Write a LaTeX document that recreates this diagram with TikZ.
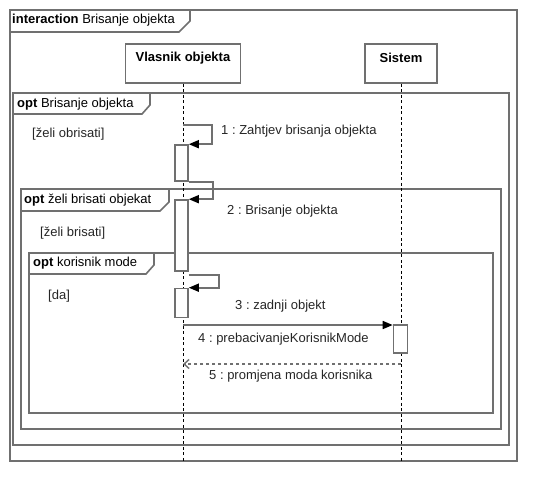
\documentclass[tikz,border=0pt]{standalone}
\usepackage{fontspec}
\setmainfont{Liberation Sans}
\usetikzlibrary{arrows.meta}
\definecolor{ln}{HTML}{707070}
\frenchspacing
\begin{document}
\begin{tikzpicture}[x=1bp,y=-1bp,
  every node/.style={font=\fontsize{13bp}{15bp}\selectfont, inner sep=0pt},
  frame/.style={draw=ln, line width=1.6bp},
  tab/.style={draw=ln, line width=1.6bp, fill=white, line join=miter},
  tabtext/.style={anchor=west},
  head/.style={draw=ln, line width=1.6bp, fill=white},
  lifeline/.style={draw=black, line width=0.8bp, dash pattern=on 3bp off 2.5bp},
  bar/.style={draw=ln, line width=1.6bp, fill=white, minimum width=13bp},
  msg/.style={draw=ln, line width=1.6bp, -{Triangle[length=10bp,width=8bp,color=black]}},
  ret/.style={draw=ln, line width=1.4bp, dash pattern=on 3bp off 3bp, -{Straight Barb[length=5bp,width=9bp,color=ln]}},
  lbl/.style={anchor=west, text=black!85}
]
\useasboundingbox[fill=white] (0,0) rectangle (557,501);

% frames
\draw[frame] (10,10) rectangle (517,461);
\draw[frame] (13,93) rectangle (509,445);
\draw[frame] (21,189) rectangle (501,429);
\draw[frame] (29,253) rectangle (493,413);

% tabs
\draw[tab] (10,10) -- (190,10) -- (190,21) -- (179,32) -- (10,32) -- cycle;
\node[tabtext] (t0) at (12,20.5) {\textbf{interaction} Brisanje objekta};
\draw[tab] (13,93) -- (150,93) -- (150,105) -- (142,114) -- (13,114) -- cycle;
\node[tabtext] (t1) at (17,104) {\textbf{opt} Brisanje objekta};
\draw[tab] (21,189) -- (169,189) -- (169,202) -- (160,211) -- (21,211) -- cycle;
\node[tabtext] (t2) at (24,200) {\textbf{opt} želi brisati objekat};
\draw[tab] (29,253) -- (154,253) -- (154,265) -- (146,274) -- (29,274) -- cycle;
\node[tabtext] (t3) at (33,263.5) {\textbf{opt} korisnik mode};

% guards
\node[lbl] (g1) at (32,134) {[želi obrisati]};
\node[lbl] (g2) at (40,233) {[želi brisati]};
\node[lbl] (g3) at (48,296) {[da]};

% lifeline heads
\node[head, minimum width=115bp, minimum height=39bp] (vl) at (183,63.5) {};
\node (vlt) at (183,58) {\textbf{Vlasnik objekta}};
\node[head, minimum width=72bp, minimum height=39bp] (si) at (401,63.5) {};
\node (sit) at (401,58) {\textbf{Sistem}};

% lifelines
\coordinate (vlend) at (183,463);
\coordinate (siend) at (401,463);
\draw[lifeline] (vl.south) -- (vlend);
\draw[lifeline] (si.south) -- (siend);

% activation bars
\node[bar, minimum height=36bp] (b1) at (181.5,163) {};
\node[bar, minimum height=71bp] (b2) at (181.5,235.5) {};
\node[bar, minimum height=29bp] (b3) at (181.5,303) {};
\node[bar, minimum width=14bp, minimum height=28bp] (sb) at (400.5,339) {};

% messages
\coordinate (m1s) at (183,125);
\draw[msg] (m1s) -- ++(29,0) |- (b1.north east);
\node[lbl] (l1) at (221,131) {1 : Zahtjev brisanja objekta};

\draw[msg] (b1.south east) -- ++(24,0) |- (b2.north east);
\node[lbl] (l2) at (227,211) {2 : Brisanje objekta};

\draw[msg] ([yshift=-3bp]b2.south east) -- ++(30,0) |- (b3.north east);
\node[lbl] (l3) at (235,306.5) {3 : zadnji objekt};

\coordinate (m4s) at (183,325);
\draw[msg] (m4s) -- (m4s -| sb.west);
\node[lbl] (l4) at (198,339) {4 : prebacivanjeKorisnikMode};

\coordinate (m5s) at (401,364);
\coordinate (m5e) at (183,364);
\draw[ret] (m5s) -- (m5e);
\node[lbl] (l5) at (209,376.5) {5 : promjena moda korisnika};
\end{tikzpicture}
\end{document}
